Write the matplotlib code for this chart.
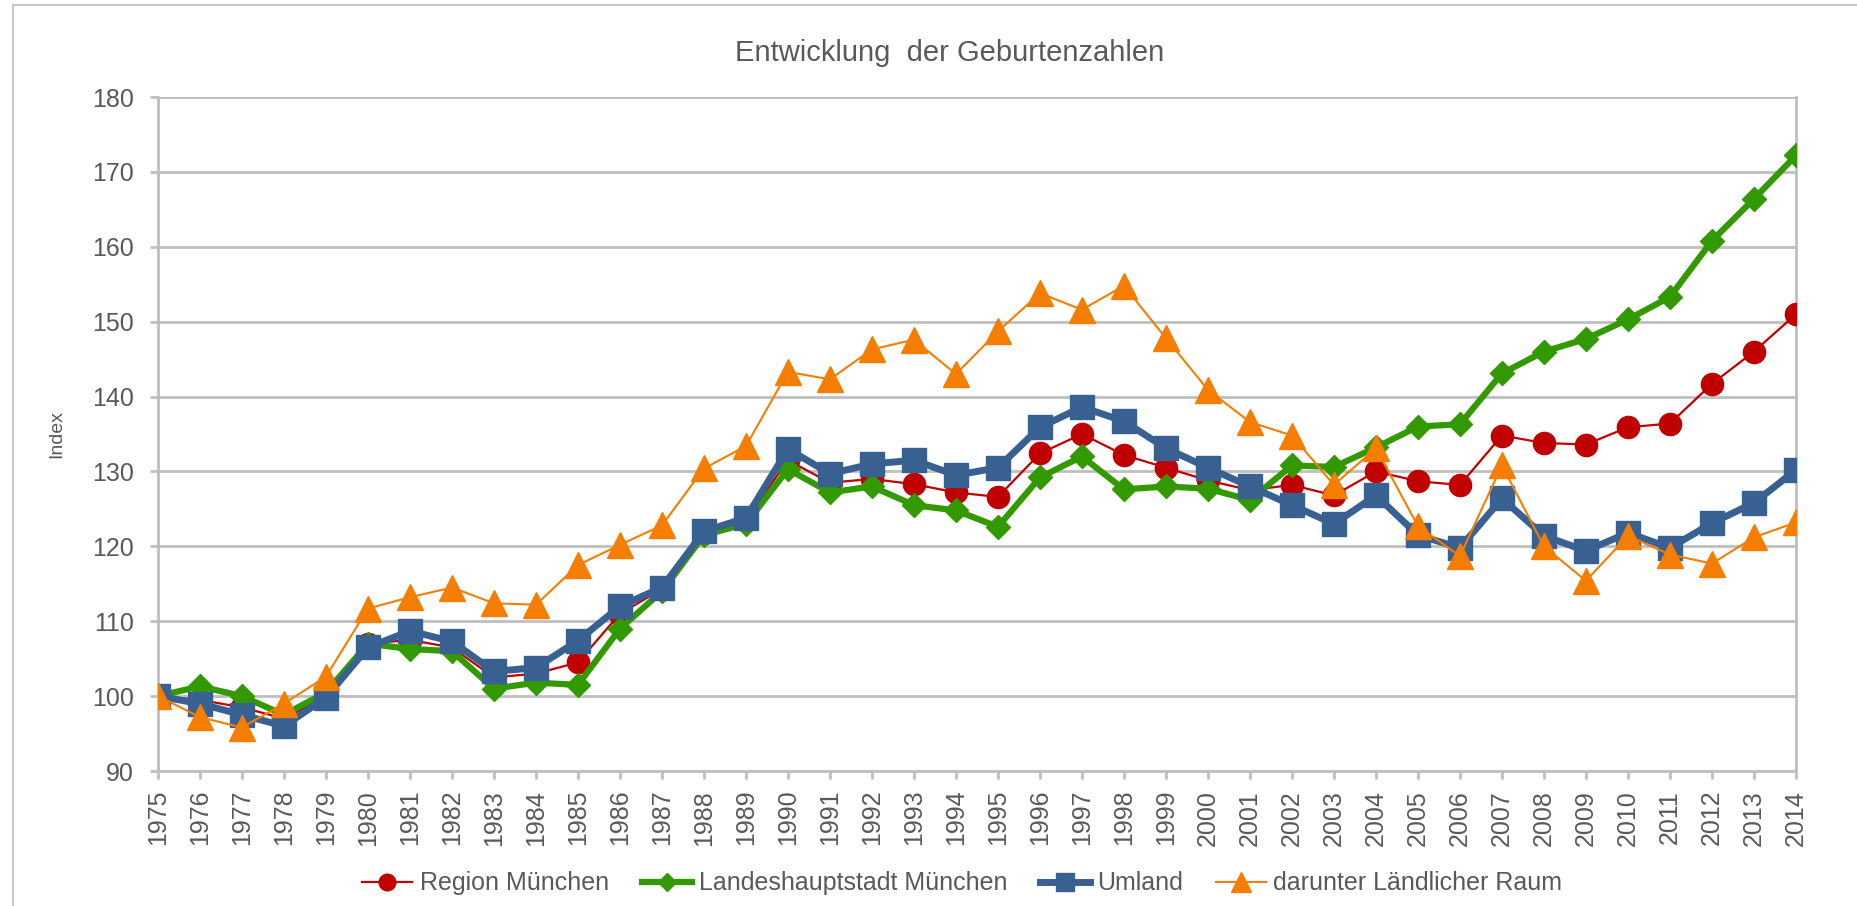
import matplotlib.pyplot as plt
from matplotlib.patches import Rectangle

plt.rcParams['font.family'] = ['Liberation Sans', 'DejaVu Sans']

years = list(range(1975, 2015))

region = [100, 99.5, 98.5, 97, 100, 107, 107.5, 106.5, 102.5, 103,
          104.5, 111, 114.3, 121.8, 123.5, 131.5, 128.5, 129, 128.3, 127.2,
          126.6, 132.4, 135, 132.2, 130.5, 128.8, 127.5, 128.2, 126.8, 130,
          128.7, 128.2, 134.8, 133.8, 133.6, 135.9, 136.4, 141.7, 146, 151]

stadt = [100, 101.3, 100, 97.5, 100.5, 107, 106.3, 106, 101, 101.8,
         101.5, 109, 114, 121.5, 123, 130.3, 127.2, 128, 125.5, 124.8,
         122.6, 129.2, 132, 127.6, 128, 127.7, 126.2, 130.8, 130.6, 133.2,
         136, 136.3, 143.1, 146, 147.7, 150.3, 153.3, 160.8, 166.4, 172.2]

umland = [100, 99, 97.5, 96, 99.8, 106.5, 108.7, 107.3, 103.3, 103.8,
          107.4, 112, 114.5, 122, 123.8, 133, 129.7, 131, 131.5, 129.5,
          130.5, 135.9, 138.6, 136.7, 133.1, 130.5, 128, 125.5, 123, 126.8,
          121.5, 119.8, 126.4, 121.4, 119.4, 121.8, 119.8, 123.1, 125.8, 130.2]

laendlich = [100, 97.2, 95.8, 99, 102.6, 111.7, 113.2, 114.5, 112.4, 112.2,
             117.5, 120.2, 122.8, 130.4, 133.4, 143.3, 142.3, 146.3, 147.6, 143,
             148.7, 153.8, 151.6, 154.8, 147.8, 140.9, 136.6, 134.8, 128.2, 133.1,
             122.7, 118.7, 130.8, 120, 115.4, 121.4, 118.9, 117.7, 121.2, 123.2]

grey = '#bfbfbf'
text_col = '#595959'

fig = plt.figure(figsize=(18.58, 9.06), dpi=100)
ax = fig.add_axes([0.0850, 0.149, 0.8816, 0.7439])

# chart area border (only left and top edge visible in the crop)
fig.patches.append(Rectangle((0.007, -0.1), 1.5, 1.0945, transform=fig.transFigure,
                             fill=False, edgecolor='#c8c8c8', linewidth=1.5))

ax.plot(years, region, color='#c00000', lw=1.6, marker='o', ms=16,
        label='Region München', zorder=3)
ax.plot(years, stadt, color='#339900', lw=4.5, marker='D', ms=12,
        label='Landeshauptstadt München', zorder=4)
ax.plot(years, umland, color='#386192', lw=5, marker='s', ms=17,
        label='Umland', zorder=5)
ax.plot(years, laendlich, color='#f57d00', lw=1.5, marker='^', ms=19,
        label='darunter Ländlicher Raum', zorder=6)

ax.set_xlim(1975, 2014)
ax.set_ylim(90, 180)
ax.set_yticks(range(90, 181, 10))
ax.set_xticks(years)
ax.set_xticklabels([str(y) for y in years], rotation=90)

ax.grid(axis='y', color=grey, lw=2)
ax.set_axisbelow(True)
ax.spines['top'].set_visible(False)
for s in ['left', 'bottom', 'right']:
    ax.spines[s].set_color(grey)
    ax.spines[s].set_linewidth(2)
ax.tick_params(axis='both', colors=grey, width=2, length=5.5, labelsize=18,
               labelcolor=text_col)
ax.tick_params(axis='x', pad=8)
ax.tick_params(axis='y', pad=12)

ax.set_ylabel('Index', fontsize=14, color=text_col)
ax.yaxis.set_label_coords((65 - 158) / 1638, 0.5)
fig.text(0.511, 0.9415, 'Entwicklung  der Geburtenzahlen', ha='center', va='center',
         fontsize=21, color=text_col)

fig.legend(loc='center', bbox_to_anchor=(0.518, 0.025), ncol=4, frameon=False,
           fontsize=18, labelcolor=text_col, handlelength=2.0, columnspacing=1.3,
           handletextpad=0.3, markerscale=0.75)

fig.savefig('out.png', dpi=100)
